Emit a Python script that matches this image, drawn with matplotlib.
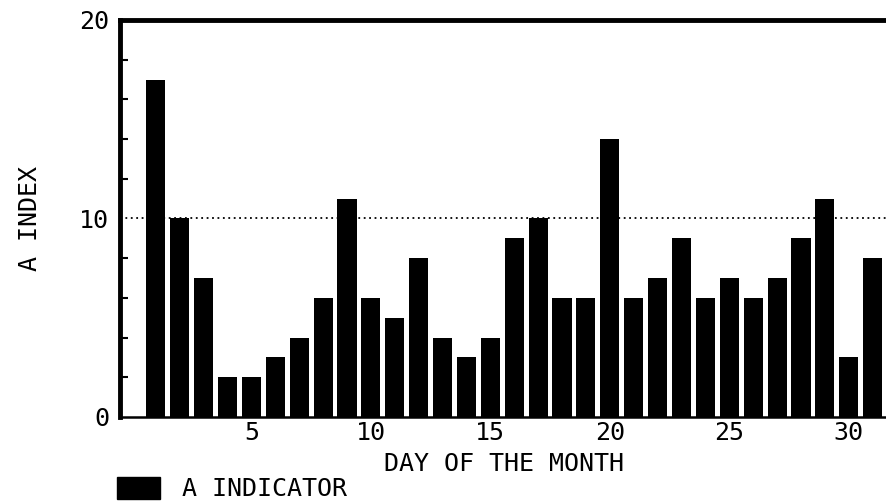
import matplotlib.pyplot as plt
from matplotlib.patches import Patch
from matplotlib.ticker import MultipleLocator

days = list(range(1, 32))
a_index = [17, 10, 7, 2, 2, 3, 4, 6, 11, 6, 5, 8, 4, 3, 4, 9,
           10, 6, 6, 14, 6, 7, 9, 6, 7, 6, 7, 9, 11, 3, 8]
xticks = [5, 10, 15, 20, 25, 30]
yticks = [0, 10, 20]
ref_level = 10

plt.rcParams['font.family'] = ['DejaVu Sans Mono']

fig = plt.figure(figsize=(8.87, 5.01), dpi=100)
ax = fig.add_axes([0.1353, 0.1677, 0.8647, 0.7924])

ax.bar(days, a_index, width=0.8, color='black')
ax.axhline(ref_level, color='black', linestyle=(0, (1, 2)), linewidth=1.3, zorder=0)

ax.set_xlim(-0.5, 31.6)
ax.set_ylim(0, 20)
ax.set_xticks(xticks)
ax.set_yticks(yticks)
ax.yaxis.set_minor_locator(MultipleLocator(2))
ax.tick_params(axis='x', length=0, labelsize=18, pad=3)
ax.tick_params(axis='y', which='major', length=0, labelsize=18, pad=8)
ax.tick_params(axis='y', which='minor', direction='in', length=6, width=1.5)

ax.spines['right'].set_visible(False)
ax.spines['left'].set_linewidth(3.5)
ax.spines['top'].set_linewidth(3.5)
ax.spines['bottom'].set_linewidth(1.8)

ax.set_xlabel('DAY OF THE MONTH', fontsize=18, va='center')
ax.xaxis.set_label_coords(0.5, -0.118)
ax.set_ylabel('A INDEX', fontsize=18, va='center')
ax.yaxis.set_label_coords(-0.117, 0.5)

fig.legend(handles=[Patch(color='black', label='A INDICATOR')],
           loc='center left', bbox_to_anchor=(0.132, 0.024), frameon=False,
           fontsize=18, handlelength=1.7, handleheight=1.0, handletextpad=0.9,
           borderpad=0, borderaxespad=0)

fig.savefig('out.png', dpi=100)
